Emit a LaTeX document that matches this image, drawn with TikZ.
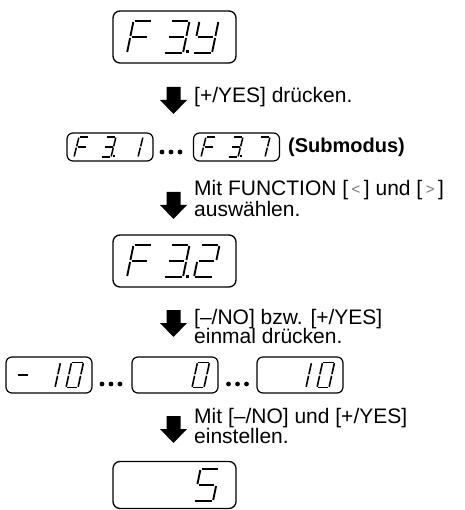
\documentclass[tikz,border=0pt]{standalone}
\usepackage{fontspec}
\setmainfont{Liberation Sans}
\def\sga{(0.07,2)--(0.93,2)}
\def\sgb{(1,1.94)--(1,1.06)}
\def\sgc{(1,0.94)--(1,0.06)}
\def\sgd{(0.07,0)--(0.93,0)}
\def\sge{(0,0.94)--(0,0.06)}
\def\sgf{(0,1.94)--(0,1.06)}
\def\sgg{(0.1,1)--(0.9,1)}
% #1 x0, #2 bottom y, #3 width, #4 height, #5 slant, #6 line width, #7 segments
\newcommand\segdigit[7]{%
  \begin{scope}[shift={(#1,#2)}, x={(#3pt,0pt)}, y={({#5pt/2},{#4pt/2})}]
    \foreach \sg in {#7}{%
      \expandafter\let\expandafter\cursg\csname sg\sg\endcsname
      \draw[line width=#6pt] \cursg;}
  \end{scope}}
\newcommand\segdot[3]{\fill ({#1-#3},{#2-#3}) rectangle ({#1+#3},{#2+#3});}
\begin{document}
\begin{tikzpicture}[x=1pt,y=-1pt,
  disp/.style={draw, line width=1.3pt, rounded corners=7pt, inner sep=0pt},
  sdisp/.style={draw, line width=1.2pt, rounded corners=6pt, inner sep=0pt, minimum width=86pt},
  txt/.style={inner sep=0pt, anchor=base west, font=\fontsize{21}{21}\selectfont},
  subm/.style={inner sep=0pt, anchor=base west, font=\fontsize{20}{20}\selectfont\bfseries},
  downarr/.pic={\fill (-7,0) -- (7,0) -- (7,13) -- (13.5,13) -- (0,27) -- (-13.5,13) -- (-7,13) -- cycle;}]
\useasboundingbox (0,0) rectangle (464,510);
\newcommand\lightsym[1]{\textcolor{black!55}{\raisebox{1pt}{\fontsize{15}{15}\selectfont #1}}}

% ---- top display F 3.y
\node[disp, minimum width=123pt, minimum height=52pt] (d1) at (174.5,37) {};
\segdigit{127}{53}{19}{32}{6.5}{1.9}{a,e,f,g}
\segdigit{164}{53}{19}{32}{6.5}{1.9}{a,b,c,d,g}
\segdot{187}{52}{1.5}
\segdigit{193}{53}{19}{32}{6.5}{1.9}{b,c,d,f,g}

\pic (a1) at (173.5,87) {downarr};
\node[txt] (t1) at (194,103) {[+/YES] drücken.};

% ---- submode row
\node[sdisp, minimum height=28pt] (s1) at (110,147) {};
\segdigit{74}{157}{10}{20}{5}{1.5}{a,e,f,g}
\segdigit{101}{157}{10}{20}{5}{1.5}{a,b,c,d,g}
\segdot{114}{156}{1.2}
\segdigit{128}{157}{10}{20}{5}{1.5}{b,c}
\fill (162,152) circle (2.4) (171,152) circle (2.4) (180,152) circle (2.4);
\node[sdisp, minimum height=28pt] (s2) at (236.5,147) {};
\segdigit{201}{157}{10}{20}{5}{1.5}{a,e,f,g}
\segdigit{228}{157}{10}{20}{5}{1.5}{a,b,c,d,g}
\segdot{241}{156}{1.2}
\segdigit{255}{157}{10}{20}{5}{1.5}{a,b,c}
\node[subm] (sub) at (288,153) {(Submodus)};

\pic (a2) at (173.5,192) {downarr};
\node[txt] (t2a) at (194,196) {Mit FUNCTION [\,\lightsym{<}\,] und [\,\lightsym{>}\,]};
\node[txt] (t2b) at (194,217) {auswählen.};

% ---- F 3.2
\node[disp, minimum width=123pt, minimum height=52pt] (d2) at (174.5,261) {};
\segdigit{127}{277}{19}{32}{6.5}{1.9}{a,e,f,g}
\segdigit{164}{277}{19}{32}{6.5}{1.9}{a,b,c,d,g}
\segdot{187}{276}{1.5}
\segdigit{194}{277}{19}{32}{6.5}{1.9}{a,b,g,e,d}

\pic (a3) at (173.5,310) {downarr};
\node[txt] (t3a) at (194,324) {[–/NO] bzw. [+/YES]};
\node[txt] (t3b) at (194,343) {einmal drücken.};

% ---- value row
\node[sdisp, minimum height=36pt] (v1) at (49,375) {};
\segdigit{14}{387.5}{12}{25}{5.5}{1.6}{g}
\segdigit{43}{387.5}{12}{25}{5.5}{1.6}{b,c}
\segdigit{66}{387.5}{12}{25}{5.5}{1.6}{a,b,c,d,e,f}
\fill (102,384) circle (2.4) (111,384) circle (2.4) (120,384) circle (2.4);
\node[sdisp, minimum height=36pt] (v2) at (175,375) {};
\segdigit{192}{387.5}{12}{25}{5.5}{1.6}{a,b,c,d,e,f}
\fill (228.5,384) circle (2.4) (237.5,384) circle (2.4) (246.5,384) circle (2.4);
\node[sdisp, minimum height=36pt] (v3) at (300,375) {};
\segdigit{294}{387.5}{12}{25}{5.5}{1.6}{b,c}
\segdigit{317}{387.5}{12}{25}{5.5}{1.6}{a,b,c,d,e,f}

\pic (a4) at (173.5,416) {downarr};
\node[txt] (t4a) at (194,423) {Mit [–/NO] und [+/YES]};
\node[txt] (t4b) at (194,443) {einstellen.};

% ---- final 5
\node[disp, minimum width=123pt, minimum height=47pt] (d3) at (174.5,485) {};
\segdigit{194}{501}{19}{32}{6.5}{1.9}{a,f,g,c,d}
\end{tikzpicture}
\end{document}
